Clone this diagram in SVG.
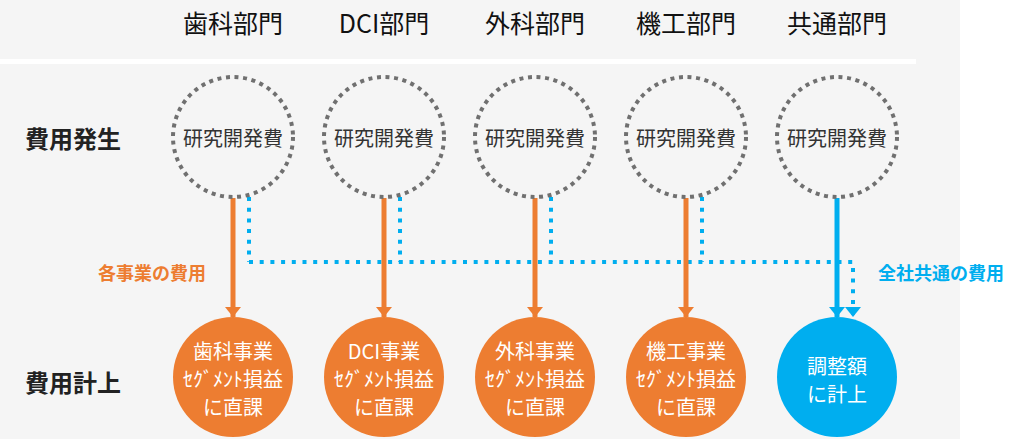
<svg xmlns="http://www.w3.org/2000/svg" width="1035" height="439" viewBox="0 0 1035 439">
<defs>
<style>
.hdr{font-family:"Noto Sans CJK JP","Noto Sans",sans-serif;font-size:25px;fill:#111;text-anchor:middle}
.row{font-family:"Noto Sans CJK JP","Noto Sans",sans-serif;font-size:24px;font-weight:bold;fill:#222}
.src{fill:none;stroke:#707070;stroke-width:4;stroke-dasharray:4 4.6}
.srct{font-family:"Noto Sans CJK JP","Noto Sans",sans-serif;font-size:20px;fill:#333;text-anchor:middle}
.dst{font-family:"Noto Sans CJK JP","Noto Sans",sans-serif;font-size:20px;fill:#fff;text-anchor:middle}
.or{stroke:#ed7d31;stroke-width:5;fill:none}
.bl{stroke:#00aeef;stroke-width:5;fill:none}
.bld{stroke:#00aeef;stroke-width:4;fill:none;stroke-dasharray:4 6.7}
.lab{font-family:"Noto Sans CJK JP","Noto Sans",sans-serif;font-size:18px;font-weight:bold}
</style>
<marker id="ao" viewBox="0 0 10 16" refX="10" refY="8" markerWidth="10" markerHeight="16" markerUnits="userSpaceOnUse" orient="auto"><path d="M0,0 L10,8 L0,16 z" fill="#ed7d31"/></marker>
<marker id="ab" viewBox="0 0 10 16" refX="10" refY="8" markerWidth="10" markerHeight="16" markerUnits="userSpaceOnUse" orient="auto"><path d="M0,0 L10,8 L0,16 z" fill="#00aeef"/></marker>
</defs>
<rect x="0" y="0" width="960" height="439" fill="#f5f5f5"/>
<rect x="0" y="59" width="916" height="5" fill="#ffffff"/>
<g id="headers">
<text class="hdr" x="233" y="33">歯科部門</text>
<text class="hdr" x="384" y="33">DCI部門</text>
<text class="hdr" x="535" y="33">外科部門</text>
<text class="hdr" x="686" y="33">機工部門</text>
<text class="hdr" x="837" y="33">共通部門</text>
</g>
<g id="rowlabels">
<text class="row" x="25" y="148">費用発生</text>
<text class="row" x="25" y="392">費用計上</text>
</g>
<g id="connectors">
<path class="bld" d="M249,197 V262"/>
<path class="bld" d="M400,197 V262"/>
<path class="bld" d="M551,197 V262"/>
<path class="bld" d="M702,197 V262"/>
<path class="bld" d="M249,262 H853 V317" marker-end="url(#ab)"/>
<path class="or" d="M233,198 V317" marker-end="url(#ao)"/>
<path class="or" d="M384,198 V317" marker-end="url(#ao)"/>
<path class="or" d="M535,198 V317" marker-end="url(#ao)"/>
<path class="or" d="M686,198 V317" marker-end="url(#ao)"/>
<path class="bl" d="M837,198 V317" marker-end="url(#ab)"/>
<text class="lab" x="98" y="280" fill="#ed7d31">各事業の費用</text>
<text class="lab" x="878" y="280" fill="#00aeef">全社共通の費用</text>
</g>
<g id="src1"><circle class="src" cx="233" cy="137" r="60"/><text class="srct" x="233" y="146">研究開発費</text></g>
<g id="src2"><circle class="src" cx="384" cy="137" r="60"/><text class="srct" x="384" y="146">研究開発費</text></g>
<g id="src3"><circle class="src" cx="535" cy="137" r="60"/><text class="srct" x="535" y="146">研究開発費</text></g>
<g id="src4"><circle class="src" cx="686" cy="137" r="60"/><text class="srct" x="686" y="146">研究開発費</text></g>
<g id="src5"><circle class="src" cx="837" cy="137" r="60"/><text class="srct" x="837" y="146">研究開発費</text></g>
<g id="dst1"><circle cx="233" cy="377" r="60" fill="#ed7d31"/><text class="dst" x="233" y="359">歯科事業<tspan x="233" dy="28">ｾｸﾞﾒﾝﾄ損益</tspan><tspan x="233" dy="28">に直課</tspan></text></g>
<g id="dst2"><circle cx="384" cy="377" r="60" fill="#ed7d31"/><text class="dst" x="384" y="359">DCI事業<tspan x="384" dy="28">ｾｸﾞﾒﾝﾄ損益</tspan><tspan x="384" dy="28">に直課</tspan></text></g>
<g id="dst3"><circle cx="535" cy="377" r="60" fill="#ed7d31"/><text class="dst" x="535" y="359">外科事業<tspan x="535" dy="28">ｾｸﾞﾒﾝﾄ損益</tspan><tspan x="535" dy="28">に直課</tspan></text></g>
<g id="dst4"><circle cx="686" cy="377" r="60" fill="#ed7d31"/><text class="dst" x="686" y="359">機工事業<tspan x="686" dy="28">ｾｸﾞﾒﾝﾄ損益</tspan><tspan x="686" dy="28">に直課</tspan></text></g>
<g id="dst5"><circle cx="837" cy="377" r="60" fill="#00aeef"/><text class="dst" x="837" y="374">調整額<tspan x="837" dy="28">に計上</tspan></text></g>
</svg>
